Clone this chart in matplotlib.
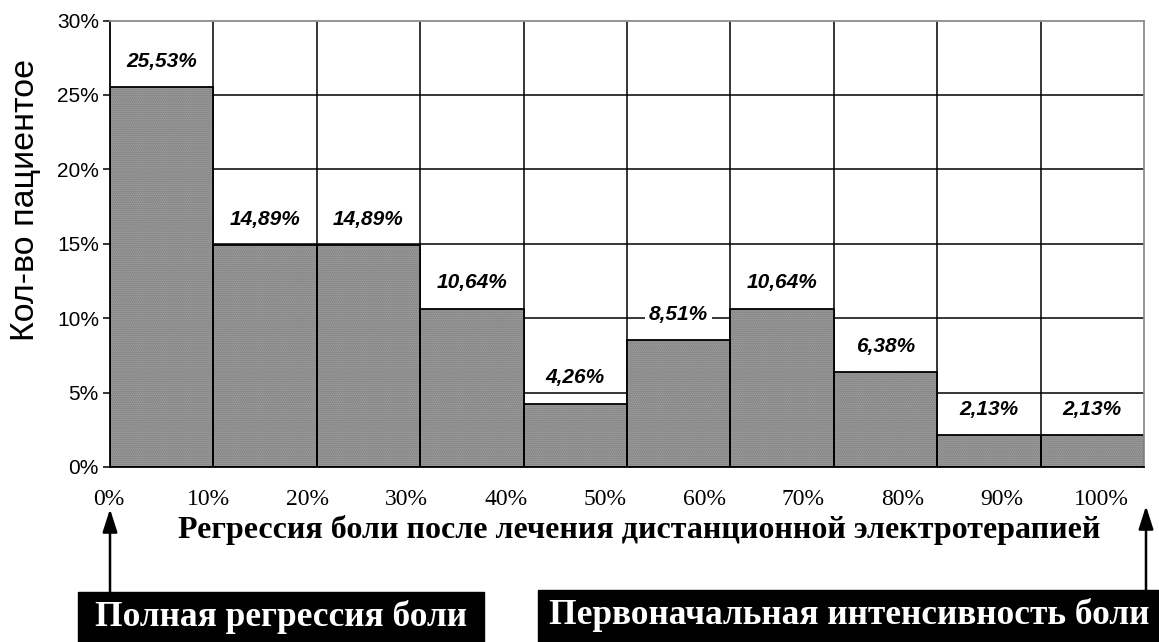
import numpy as np
import matplotlib.pyplot as plt
from matplotlib.patches import FancyArrowPatch, Rectangle

# Data
bins = np.arange(10)
shares = [25.53, 14.89, 14.89, 10.64, 4.26, 8.51, 10.64, 6.38, 2.13, 2.13]
y_ticks = [0, 5, 10, 15, 20, 25, 30]
x_tick_vals = [0, 10, 20, 30, 40, 50, 60, 70, 80, 90, 100]
y_title = "Кол-во пациентое"
x_title = "Регрессия боли после лечения дистанционной электротерапией"
left_note = "Полная регрессия боли"
right_note = "Первоначальная интенсивность боли"

W, H = 1159, 642
fig = plt.figure(figsize=(W / 100, H / 100), dpi=100)
ax = fig.add_axes([110 / W, 1 - 467 / H, 1034 / W, 446.5 / H])

# grid lines behind the bars
for v in y_ticks[1:-1]:
    ax.axhline(v, color="black", lw=1.1, zorder=0)
for v in range(1, 10):
    ax.axvline(v, color="black", lw=1.1, zorder=0)

# textured grey fill, then black outline
ax.bar(bins + 0.5, shares, width=1.0, color="#a8a8a8", edgecolor="#737373",
       hatch="........", linewidth=0, zorder=1)
ax.bar(bins + 0.5, shares, width=1.0, fill=False, edgecolor="black",
       linewidth=1.3, zorder=2)

for x, v in zip(bins + 0.5, shares):
    ax.annotate(f"{v:.2f}".replace(".", ",") + "%", (x, v), xytext=(0, 18.5),
                textcoords="offset points", ha="center", va="center",
                fontsize=15, fontweight="bold", fontstyle="italic",
                family="Liberation Sans", zorder=5,
                bbox=dict(facecolor="white", edgecolor="none", pad=3))

ax.set_xlim(0, 10)
ax.set_ylim(0, 30)
ax.set_yticks(y_ticks)
ax.set_yticklabels([f"{t}%" for t in y_ticks], family="Liberation Sans", fontsize=15)
ax.tick_params(axis="y", direction="out", length=5, width=1.1, pad=3)
ax.set_xticks([])
for side in ("top", "right"):
    ax.spines[side].set_color("#8c8c8c")
    ax.spines[side].set_linewidth(1.3)
for side in ("left", "bottom"):
    ax.spines[side].set_color("black")
    ax.spines[side].set_linewidth(1.3)

# separate row of percentage labels under the axis
ax2 = fig.add_axes([109 / W, 1 - 467 / H, 992 / W, 0.0001])
ax2.set_xlim(0, 100)
ax2.set_xticks(x_tick_vals)
ax2.set_xticklabels([f"{t}%" for t in x_tick_vals], family="Liberation Serif", fontsize=17)
ax2.tick_params(axis="x", length=0, pad=16)
ax2.set_yticks([])
for s in ax2.spines.values():
    s.set_visible(False)
ax2.patch.set_alpha(0)

fig.text(26 / W, 1 - 200 / H, y_title, rotation=90, ha="center", va="center",
         family="Liberation Sans", fontsize=24.5)
fig.text(639 / W, 1 - 530 / H, x_title, ha="center", va="center",
         family="Liberation Serif", fontweight="bold", fontsize=23)

# notes with arrows
fig.patches.append(Rectangle((78 / W, 0), 406 / W, 50 / H, transform=fig.transFigure,
                             color="black", zorder=3))
fig.patches.append(Rectangle((538 / W, 0), 630 / W, 52 / H, transform=fig.transFigure,
                             color="black", zorder=3))
fig.text(281 / W, 1 - 617 / H, left_note, ha="center", va="center", color="white",
         family="Liberation Serif", fontweight="bold", fontsize=25.5, zorder=4)
fig.text(849 / W, 1 - 615 / H, right_note, ha="center", va="center", color="white",
         family="Liberation Serif", fontweight="bold", fontsize=25.5, zorder=4)

arrow = dict(arrowstyle="-|>,head_length=1.0,head_width=0.32", color="black", lw=1.8,
             shrinkA=0, shrinkB=0, mutation_scale=14)
fig.add_artist(FancyArrowPatch((110 / W, 1 - 592 / H), (110 / W, 1 - 509 / H),
                               transform=fig.transFigure, **arrow))
fig.add_artist(FancyArrowPatch((1146 / W, 1 - 590 / H), (1146 / W, 1 - 506 / H),
                               transform=fig.transFigure, **arrow))

fig.savefig("out.png", dpi=100)
